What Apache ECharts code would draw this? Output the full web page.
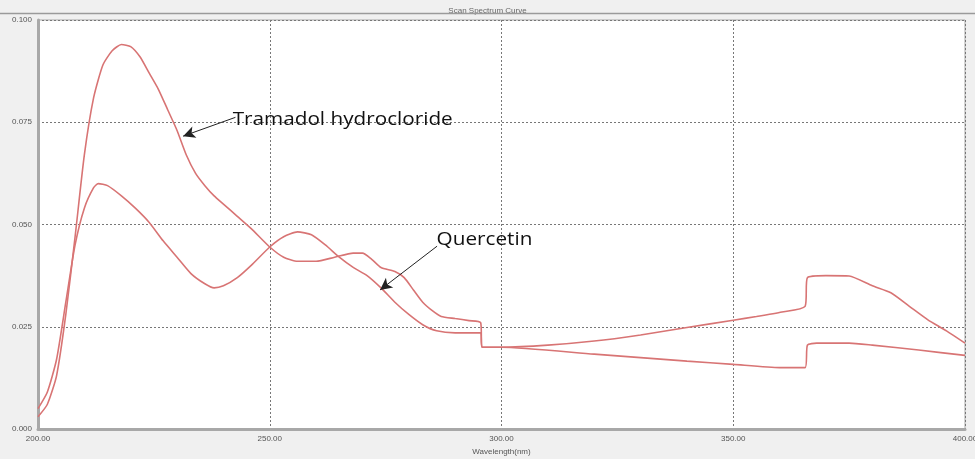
<!DOCTYPE html>
<html>
<head>
<meta charset="utf-8">
<script src="https://cdn.jsdelivr.net/npm/echarts@6/dist/echarts.min.js"></script>
<style>
html,body{margin:0;padding:0;background:#f0f0f0;overflow:hidden;}
#chart{width:975px;height:459px;}
</style>
</head>
<body>
<div id="chart"></div>
<script>
// Wavelength (nm) and absorbance
const tramadolNm = [200,202,204,206,208,210,212,214,216,218,220,222,224,226,228,230,232,234,236,238,240,243,246,250,253,256,260,264,268,270,272,274,277,279,281,283,285,287,290,293,295.5,295.8,300,310,320,330,340,350,355,360.5,365.5,366,370,375,380,384,388,392,396,400];
const tramadolAbs = [0.003,0.006,0.013,0.028,0.047,0.067,0.081,0.089,0.0925,0.094,0.0935,0.091,0.087,0.083,0.078,0.073,0.067,0.0625,0.0595,0.057,0.055,0.052,0.049,0.0445,0.042,0.041,0.041,0.042,0.043,0.043,0.0415,0.0395,0.0385,0.037,0.034,0.031,0.029,0.0275,0.027,0.0265,0.026,0.020,0.020,0.0205,0.0215,0.023,0.0248,0.0266,0.0275,0.0286,0.030,0.037,0.0375,0.0374,0.035,0.0333,0.030,0.0267,0.024,0.021];

const quercetinNm = [200,202,204,206,208,210,212,213,215,218,221,224,227,230,233,236,238,240,243,246,250,253,256,259,262,265,268,271,274,277,280,283,286,290,295.5,295.8,300,320,340,350,360,365.5,366,368,375,380,390,400];
const quercetinAbs = [0.005,0.009,0.017,0.031,0.045,0.054,0.059,0.060,0.0595,0.057,0.054,0.0505,0.046,0.042,0.038,0.0355,0.0345,0.035,0.037,0.040,0.0445,0.047,0.0482,0.0475,0.045,0.042,0.0395,0.0375,0.0345,0.031,0.028,0.0255,0.024,0.0235,0.0235,0.020,0.020,0.0183,0.0166,0.0158,0.015,0.015,0.0205,0.021,0.021,0.0205,0.0193,0.018];

const xTicks = [200,250,300,350,400];
const yTicks = [0,0.025,0.05,0.075,0.1];

const zip = (a,b)=>a.map((v,i)=>[v,b[i]]);
const lineColor = '#d87474';

const chart = echarts.init(document.getElementById('chart'));
const option = {
  backgroundColor:'#f0f0f0',
  animation:false,
  title:{text:'Scan Spectrum Curve',left:'center',top:2,textStyle:{fontSize:8,fontWeight:'normal',color:'#666',fontFamily:'Liberation Sans'}},
  grid:{left:38,right:10,top:20,bottom:30,outerBoundsMode:'none',containLabel:false,show:true,backgroundColor:'#ffffff',borderColor:'#a8a8a8',borderWidth:1},
  xAxis:{type:'value',min:xTicks[0],max:xTicks[xTicks.length-1],interval:50,
    name:'Wavelength(nm)',nameLocation:'middle',nameGap:15,
    nameTextStyle:{fontSize:8,color:'#555',fontFamily:'Liberation Sans'},
    axisLine:{lineStyle:{color:'#a8a8a8',width:3}},axisTick:{show:false},
    axisLabel:{fontSize:8,color:'#555',margin:6,fontFamily:'Liberation Sans',formatter:v=>v.toFixed(2)},
    splitLine:{show:true,lineStyle:{color:'#777',type:[2,2],width:1}}},
  yAxis:{type:'value',min:yTicks[0],max:yTicks[yTicks.length-1],interval:0.025,
    axisLine:{show:true,lineStyle:{color:'#a8a8a8',width:3}},axisTick:{show:false},
    axisLabel:{fontSize:8,color:'#555',margin:6,fontFamily:'Liberation Sans',formatter:v=>v.toFixed(3)},
    splitLine:{show:true,lineStyle:{color:'#777',type:[2,2],width:1}}},
  series:[
    {name:'Tramadol hydrocloride',type:'line',data:zip(tramadolNm,tramadolAbs),showSymbol:false,smooth:0.2,
      lineStyle:{color:lineColor,width:1.6},
      markLine:{silent:true,symbol:['none','arrow'],symbolSize:[9,12],
        lineStyle:{color:'#222',width:1,type:'solid'},label:{show:false},
        data:[[{coord:[242.6,0.0762]},{coord:[231.3,0.0716]}]]}},
    {name:'Quercetin',type:'line',data:zip(quercetinNm,quercetinAbs),showSymbol:false,smooth:0.2,
      lineStyle:{color:lineColor,width:1.6},
      markLine:{silent:true,symbol:['none','arrow'],symbolSize:[9,12],
        lineStyle:{color:'#222',width:1,type:'solid'},label:{show:false},
        data:[[{coord:[286.1,0.0447]},{coord:[273.8,0.034]}]]}}
  ]
};
chart.setOption(option);

const p1 = chart.convertToPixel({gridIndex:0},[242.0,0.0757]);
const p2 = chart.convertToPixel({gridIndex:0},[286.0,0.0462]);
chart.setOption({graphic:[
  {type:'line',shape:{x1:0,y1:13.5,x2:975,y2:13.5},style:{stroke:'#9a9a9a',lineWidth:1.5},z:10},
  {type:'text',x:p1[0],y:p1[1],scaleX:1.09,style:{text:'Tramadol hydrocloride',font:'19px "Open Sans"',fill:'#111',textVerticalAlign:'middle'},z:20},
  {type:'text',x:p2[0],y:p2[1],scaleX:1.09,style:{text:'Quercetin',font:'19px "Open Sans"',fill:'#111',textVerticalAlign:'middle'},z:20}
]});
</script>
</body>
</html>
